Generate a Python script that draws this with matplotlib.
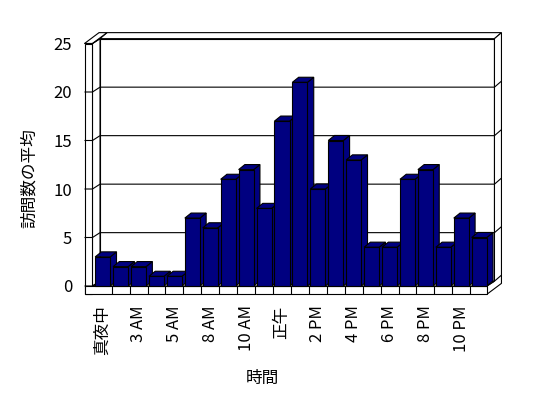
import matplotlib
matplotlib.use("Agg")
import matplotlib.pyplot as plt
from matplotlib.patches import Polygon

plt.rcParams['font.family'] = ['Noto Sans CJK JP', 'DejaVu Sans']

# ---- data ----
hours = ['真夜中', '1 AM', '3 AM', '4 AM', '5 AM', '7 AM', '8 AM', '9 AM',
         '10 AM', '11 AM', '正午', '1 PM', '2 PM', '3 PM', '4 PM', '5 PM',
         '6 PM', '7 PM', '8 PM', '9 PM', '10 PM', '11 PM']
visits = [3, 2, 2, 1, 1, 7, 6, 11, 12, 8, 17, 21, 10, 15, 13, 4, 4, 11, 12, 4, 7, 5]
y_ticks = [0, 5, 10, 15, 20, 25]
x_label = '時間'
y_label = '訪問数の平均'

# ---- style / geometry (data units) ----
BAR_COLOR = '#000080'
LW = 0.8
YMAX = 25
bar_half = 0.42
bdx, bdy = 0.35, 0.52      # bar depth
DX, DY = 0.42, 0.50        # box depth (front plane -> back wall)
BTX, BTY = 0.39, 0.62      # back wall thickness
xL0, xL1 = -1.015, -0.57   # left wall outer / inner
n = len(visits)
xR = n - 1 + 0.43          # floor right end
ty = 0.85                  # floor thickness
PXX, PXY = 17.93, 9.7      # pixel scale for layout

W, H = 548, 398
fig = plt.figure(figsize=(W / 100, H / 100), dpi=100)
ax = fig.add_axes([0, 0, 1, 1])
ax.set_xlim(-102.7 / PXX, (W - 102.7) / PXX)
ax.set_ylim((286 - H) / PXY, 286 / PXY)
for s in ax.spines.values():
    s.set_visible(False)

def poly(pts, fc='white', z=1):
    ax.add_patch(Polygon(pts, closed=True, facecolor=fc, edgecolor='black',
                         linewidth=LW, joinstyle='miter', zorder=z))

def line(xs, ys, z=2):
    ax.plot(xs, ys, color='black', linewidth=LW, zorder=z,
            solid_capstyle='butt')

# back wall front face
poly([(xL1 + DX, DY), (xR + DX, DY), (xR + DX, YMAX + DY), (xL1 + DX, YMAX + DY)], z=1)
# back wall top face
poly([(xL1 + DX, YMAX + DY), (xR + DX, YMAX + DY),
      (xR + DX + BTX, YMAX + DY + BTY), (xL1 + DX + BTX, YMAX + DY + BTY)], z=1)
# right side (floor + back wall)
poly([(xR, -ty), (xR, 0), (xR + DX, DY), (xR + DX, YMAX + DY),
      (xR + DX + BTX, YMAX + DY + BTY), (xR + DX + BTX, -ty + DY + BTY)], z=1)
line([xR + DX, xR + DX + BTX], [DY, DY + BTY], z=1.5)

# gridlines on back wall and its right face
for v in y_ticks[1:-1]:
    line([xL1 + DX, xR + DX, xR + DX + BTX], [v + DY, v + DY, v + DY + BTY], z=1.5)

# left wall: inner face, top face, front face
poly([(xL1, 0), (xL1 + DX, DY), (xL1 + DX, YMAX + DY), (xL1, YMAX)], z=3)
poly([(xL0, YMAX), (xL1, YMAX), (xL1 + DX + BTX, YMAX + DY + BTY),
      (xL0 + DX + BTX, YMAX + DY + BTY)], z=3)
poly([(xL0, -ty), (xL1, -ty), (xL1, YMAX), (xL0, YMAX)], z=3)
for v in y_ticks:
    line([xL0, xL1, xL1 + DX], [v, v, v + DY], z=3.5)

# floor top and front face
poly([(xL1, 0), (xR, 0), (xR + DX, DY), (xL1 + DX, DY)], z=2)
poly([(xL0, -ty), (xR, -ty), (xR, 0), (xL0, 0)], z=3)
for i in range(n - 1):
    line([i + 0.5, i + 0.5], [-ty, 0], z=3.5)

# bars (pseudo-3D columns)
for i, v in enumerate(visits):
    x0, x1 = i - bar_half, i + bar_half
    z = 10 + i
    poly([(x1, 0), (x1 + bdx, bdy), (x1 + bdx, v + bdy), (x1, v)], fc=BAR_COLOR, z=z)
    poly([(x0, v), (x1, v), (x1 + bdx, v + bdy), (x0 + bdx, v + bdy)], fc=BAR_COLOR, z=z)
    poly([(x0, 0), (x1, 0), (x1, v), (x0, v)], fc=BAR_COLOR, z=z)

# ticks and labels
ax.set_yticks(y_ticks)
ax.set_yticklabels([str(t) for t in y_ticks])
ax.spines['left'].set_position(('data', xL0))
ax.tick_params(axis='y', length=0, pad=9, labelsize=12)

shown = list(range(0, n, 2))
ax.set_xticks(shown)
ax.set_xticklabels([hours[i] for i in shown])
ax.spines['bottom'].set_position(('data', -ty))
ax.tick_params(axis='x', length=0, pad=8, labelsize=12, labelrotation=90)

fig.text(29 / W, 1 - 178 / H, y_label, rotation=90, ha='center', va='center', fontsize=12)
fig.text(262 / W, 1 - 378 / H, x_label, ha='center', va='center', fontsize=12)

fig.savefig('out.png', dpi=100)
